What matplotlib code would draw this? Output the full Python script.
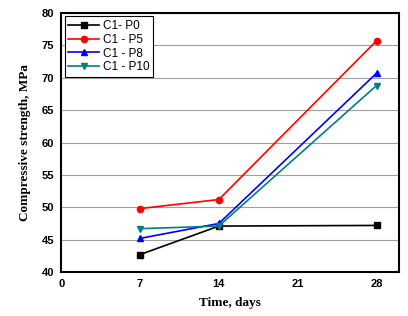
import matplotlib
matplotlib.use("Agg")
import matplotlib.pyplot as plt

# data
days = [7, 14, 28]
p0 = [42.7, 47.1, 47.2]
p5 = [49.8, 51.2, 75.7]
p8 = [45.2, 47.5, 70.7]
p10 = [46.7, 47.1, 68.8]
labels = ['C1- P0', 'C1 - P5', 'C1 - P8', 'C1 - P10']

fig = plt.figure(figsize=(4.08, 3.16), dpi=100)
ax = fig.add_axes([0.150, 0.139, 0.828, 0.820])

ax.plot(days, p0, '-s', color='black', lw=1.2, ms=4.5, label=labels[0])
ax.plot(days, p5, '-o', color='red', lw=1.2, ms=4.5, label=labels[1])
ax.plot(days, p8, '-^', color='blue', lw=1.2, ms=5, label=labels[2])
ax.plot(days, p10, '-v', color='#008080', lw=1.2, ms=5, label=labels[3])

ax.set_xlim(0, 30)
ax.set_ylim(40, 80)
ax.set_xticks([0, 7, 14, 21, 28])
ax.set_yticks(range(40, 81, 5))
ax.yaxis.grid(True, color='#a0a0a0', lw=0.8)
ax.set_axisbelow(True)
for s in ax.spines.values():
    s.set_linewidth(1.5)
ax.tick_params(length=0, pad=5)
for t in ax.get_xticklabels() + ax.get_yticklabels():
    t.set_fontfamily('Liberation Sans')
    t.set_fontweight('bold')
    t.set_fontsize(8)

ax.set_xlabel('Time, days', family='Liberation Serif', weight='bold', fontsize=9.5, labelpad=6)
ax.set_ylabel('Compressive strength, MPa', family='Liberation Serif', weight='bold', fontsize=9.5, labelpad=8)

leg = ax.legend(loc='upper left', prop={'family': 'Liberation Sans', 'size': 8.5},
                fancybox=False, edgecolor='black', framealpha=1,
                borderpad=0.3, labelspacing=0.15, handlelength=2.6,
                handletextpad=0.3, borderaxespad=0.3)
leg.get_frame().set_linewidth(0.8)

fig.savefig('out.png', dpi=100)
